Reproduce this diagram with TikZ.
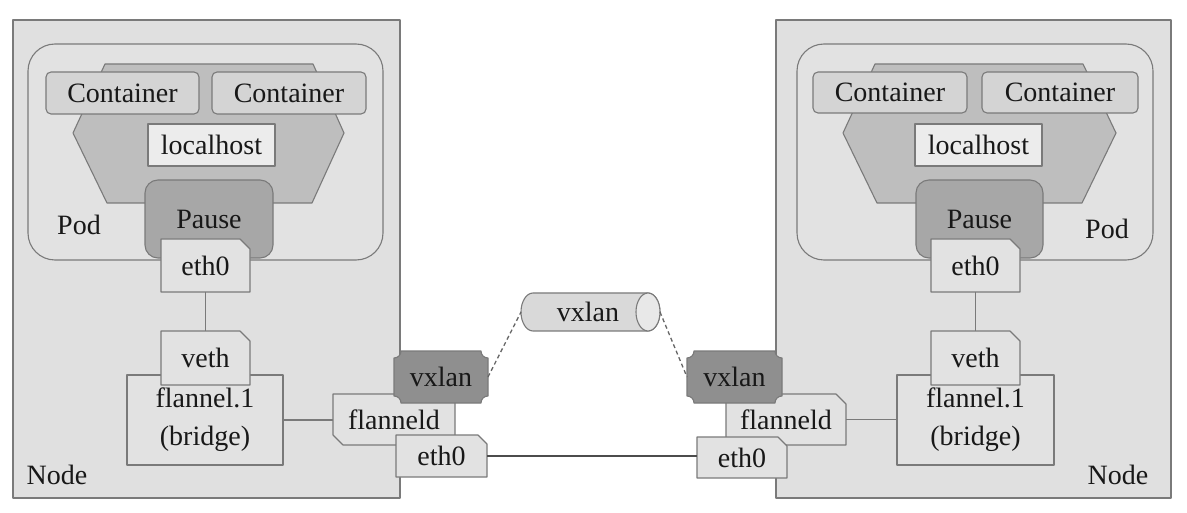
\documentclass[tikz,border=0pt]{standalone}
\usepackage{fontspec}
\setmainfont{Liberation Serif}
\definecolor{nodebg}{HTML}{E0E0E0}
\definecolor{podbg}{HTML}{E2E2E2}
\definecolor{hexbg}{HTML}{BEBEBE}
\definecolor{ctrbg}{HTML}{D4D4D4}
\definecolor{lhbg}{HTML}{ECECEC}
\definecolor{pausebg}{HTML}{A7A7A7}
\definecolor{ifbg}{HTML}{E2E2E2}
\definecolor{vxbg}{HTML}{8F8F8F}
\definecolor{cylbg}{HTML}{D9D9D9}
\definecolor{cylend}{HTML}{E8E8E8}
\definecolor{strk}{HTML}{7A7A7A}
\definecolor{txt}{HTML}{181818}
\pgfdeclarelayer{bg}
\pgfsetlayers{bg,main}
\newcommand\chamne[3]{\draw[shp, fill=#2] (#1.north west) -- ([xshift=-#3]#1.north east) -- ([yshift=-#3]#1.north east) -- (#1.south east) -- (#1.south west) -- cycle;}
\newcommand\chamsw[3]{\draw[shp, fill=#2] (#1.north west) -- (#1.north east) -- (#1.south east) -- ([xshift=#3]#1.south west) -- ([yshift=#3]#1.south west) -- cycle;}
\newcommand\notchbox[3]{\draw[shp, fill=#2] ([xshift=#3]#1.north west) -- ([xshift=-#3]#1.north east) arc[start angle=180, end angle=270, radius=#3] -- ([yshift=#3]#1.south east) arc[start angle=90, end angle=180, radius=#3] -- ([xshift=#3]#1.south west) arc[start angle=0, end angle=90, radius=#3] -- ([yshift=-#3]#1.north west) arc[start angle=270, end angle=360, radius=#3] -- cycle;}
\newcommand\plainbox[2]{\draw[shp, fill=#2] (#1.north west) rectangle (#1.south east);}
\newcommand\roundbox[3]{\draw[shp, fill=#2, rounded corners=#3] (#1.north west) rectangle (#1.south east);}
\begin{document}
\begin{tikzpicture}[x=1pt,y=-1pt,
  lbl/.style={inner sep=0pt, outer sep=0pt, text=txt, font=\rmfamily\fontsize{28}{38}\selectfont, align=center},
  bx/.style n args={2}{lbl, minimum width=#1pt, minimum height=#2pt},
  shp/.style={draw=strk, line width=1.1pt, line join=round},
  conn/.style={draw=strk, line width=1.3pt},
  trunk/.style={draw=black!70, line width=2.4pt},
  tunnel/.style={draw=black!60, line width=1.3pt, dash pattern=on 4pt off 3pt}]
\useasboundingbox (0,0) rectangle (1187,513);

% ---------- left host ----------
\node[bx={387}{478}] (nodeL) at (206.5,259) {};
\node[bx={355}{216}] (podL) at (205.5,152) {};
\node[bx={153}{42}] (c1L) at (122.5,93) {Container};
\node[bx={154}{42}] (c2L) at (289,93) {Container};
\node[bx={127}{42}] (lhL) at (211.5,145) {localhost};
\node[bx={128}{78}] (pauseL) at (209,219) {Pause};
\node[bx={89}{53}] (eth0L) at (205.5,265.5) {eth0};
\node[bx={156}{90}] (fl1L) at (205,420) {flannel.1\\(bridge)};
\node[bx={89}{54}] (vethL) at (205.5,358) {veth};
\node[bx={122}{51}] (fldL) at (394,419.5) {flanneld};
\node[bx={94}{52}] (vxL) at (441,377) {vxlan};
\node[bx={91}{42}] (ethML) at (441.5,456) {eth0};
\node[lbl] (podtL) at (79,225) {Pod};
\node[lbl] (nodetL) at (57,475) {Node};

% ---------- right host ----------
\node[bx={395}{478}] (nodeR) at (973.5,259) {};
\node[bx={356}{216}] (podR) at (975,152) {};
\node[bx={154}{41}] (c1R) at (890,92.5) {Container};
\node[bx={156}{41}] (c2R) at (1060,92.5) {Container};
\node[bx={127}{42}] (lhR) at (978.5,145) {localhost};
\node[bx={127}{78}] (pauseR) at (979.5,219) {Pause};
\node[bx={89}{53}] (eth0R) at (975.5,265.5) {eth0};
\node[bx={157}{90}] (fl1R) at (975.5,420) {flannel.1\\(bridge)};
\node[bx={89}{54}] (vethR) at (975.5,358) {veth};
\node[bx={120}{51}] (fldR) at (786,419.5) {flanneld};
\node[bx={95}{52}] (vxR) at (734.5,377) {vxlan};
\node[bx={90}{41}] (ethMR) at (742,457.5) {eth0};
\node[lbl] (podtR) at (1107,229) {Pod};
\node[lbl] (nodetR) at (1118,475) {Node};

% ---------- tunnel ----------
\node[bx={139}{38}] (cyl) at (590.5,312) {};
\node[lbl] (cyltext) at (588,312) {vxlan};

\begin{pgfonlayer}{bg}
  \plainbox{nodeL}{nodebg}
  \plainbox{nodeR}{nodebg}
  \roundbox{podL}{podbg}{27pt}
  \roundbox{podR}{podbg}{27pt}
  \draw[shp, fill=hexbg] (105,64) -- (313,64) -- (344,133) -- (312,203) -- (107,203) -- (73,133) -- cycle;
  \draw[shp, fill=hexbg] (875,64) -- (1083,64) -- (1116,133) -- (1082,203) -- (877,203) -- (843,133) -- cycle;
  \roundbox{c1L}{ctrbg}{5pt}
  \roundbox{c2L}{ctrbg}{5pt}
  \roundbox{c1R}{ctrbg}{5pt}
  \roundbox{c2R}{ctrbg}{5pt}
  \plainbox{lhL}{lhbg}
  \plainbox{lhR}{lhbg}
  \roundbox{pauseL}{pausebg}{13pt}
  \roundbox{pauseR}{pausebg}{13pt}
  \chamne{eth0L}{ifbg}{10pt}
  \chamne{eth0R}{ifbg}{10pt}
  \plainbox{fl1L}{ifbg}
  \plainbox{fl1R}{ifbg}
  \chamne{vethL}{ifbg}{10pt}
  \chamne{vethR}{ifbg}{10pt}
  \chamsw{fldL}{ifbg}{10pt}
  \chamne{fldR}{ifbg}{10pt}
  \notchbox{vxL}{vxbg}{7pt}
  \notchbox{vxR}{vxbg}{7pt}
  \chamne{ethML}{ifbg}{9pt}
  \chamne{ethMR}{ifbg}{9pt}
  \draw[shp, fill=cylbg] ([xshift=12pt]cyl.north west) -- ([xshift=-12pt]cyl.north east)
     arc[start angle=90, end angle=-90, x radius=12pt, y radius=19pt]
     -- ([xshift=12pt]cyl.south west)
     arc[start angle=270, end angle=90, x radius=12pt, y radius=19pt] -- cycle;
  \draw[shp, fill=cylend] ([xshift=-12pt]cyl.east) ellipse [x radius=12pt, y radius=19pt];
\end{pgfonlayer}

% ---------- connectors ----------
\draw[conn] (eth0L) -- (vethL);
\draw[conn] (eth0R) -- (vethR);
\draw[conn] (fl1L.east) -- (fl1L.east -| fldL.west);
\draw[conn] (fldR.east) -- (fldR.east -| fl1R.west);
\draw[trunk] (ethML.east) -- (ethML.east -| ethMR.west);
\draw[tunnel] (vxL.east) -- (cyl.west);
\draw[tunnel] (cyl.east) -- (vxR.west);
\end{tikzpicture}
\end{document}
